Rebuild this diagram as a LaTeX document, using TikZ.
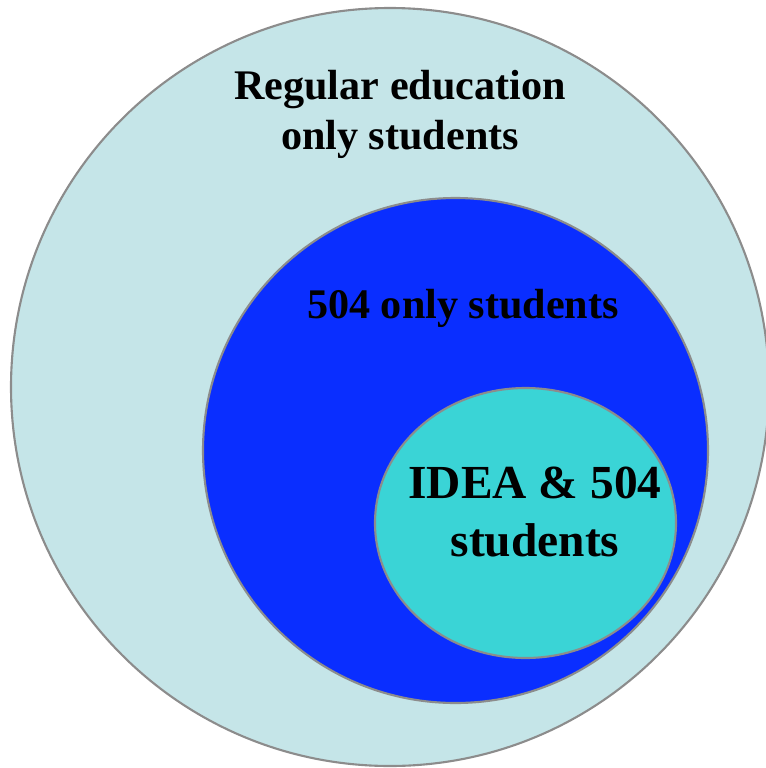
\documentclass[tikz,border=0pt]{standalone}
\usepackage{fontspec}
\setmainfont{Liberation Serif}
\usepackage{xcolor}
\usetikzlibrary{calc}

\definecolor{regfill}{HTML}{C5E5E8}
\definecolor{fivefill}{HTML}{0A2EFF}
\definecolor{ideafill}{HTML}{3AD4D6}
\definecolor{rim}{HTML}{8C8C8C}

\begin{document}
\begin{tikzpicture}[x=0.02cm,y=-0.02cm,
    every node/.style={align=center,text=black},
    ring/.style={draw=rim,line width=1.2pt},
    bigtext/.style={font=\fontsize{24}{28.5}\selectfont\bfseries},
    idtext/.style={font=\fontsize{27}{33}\selectfont\bfseries}]
        \useasboundingbox (0,0) rectangle (766,768);

        \draw[ring,fill=regfill] (390,387) circle [radius=379];
        \draw[ring,fill=fivefill] (455.5,450.5) circle [radius=252.5];
        \draw[ring,fill=ideafill] (525.5,523) ellipse [x radius=150.5, y radius=135];

        \node[bigtext] (reg) at (400,114) {Regular education\\only students};
        \node[bigtext] (five) at (463,308) {504 only students};
        \node[idtext] (idea) at (535,512) {IDEA \& 504\\students};
    \end{tikzpicture}
\end{document}
